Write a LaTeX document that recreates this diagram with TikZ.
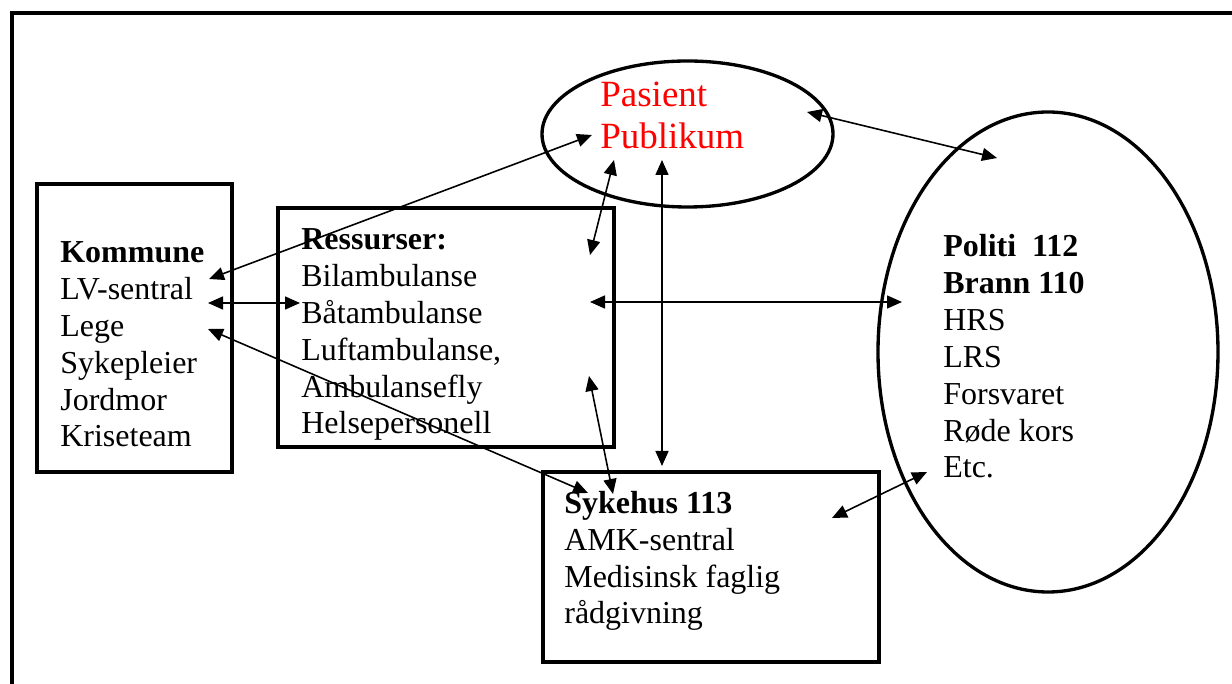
\documentclass[tikz,border=0pt]{standalone}
\usepackage{fontspec}
\setmainfont{Liberation Serif}
\usetikzlibrary{arrows.meta}
\begin{document}
\begin{tikzpicture}[font=\fontsize{18.2}{21.05}\selectfont]
    \tikzset{boks/.style={draw, line width=1.9pt},
      txt/.style={anchor=base west, align=left, inner sep=0pt},
      pil/.style={{Triangle[length=3mm,width=2.6mm]}-{Triangle[length=3mm,width=2.6mm]}, line width=0.9pt}}
    \useasboundingbox (0,0) rectangle (24.64,13.68);
    % outer frame, open to the right and below
    \draw[line width=2.2pt] (0.24,-0.2) -- (0.24,13.42) -- (24.9,13.42);
    % Kommune (text placed by its last baseline)
    \draw[boks] (0.74,4.24) rectangle (4.64,10.00);
    \node[txt] (kommune) at (1.20,4.74) {\textbf{Kommune}\\LV-sentral\\Lege\\Sykepleier\\Jordmor\\Kriseteam};
    % Ressurser
    \draw[boks] (5.56,4.74) rectangle (12.28,9.52);
    \node[txt] (ressurser) at (6.02,5.00) {\textbf{Ressurser:}\\Bilambulanse\\Båtambulanse\\Luftambulanse,\\Ambulansefly\\Helsepersonell};
    % Sykehus
    \draw[boks] (10.86,0.44) rectangle (17.58,4.24);
    \node[txt] (sykehus) at (11.28,1.20) {\textbf{Sykehus 113}\\AMK-sentral\\Medisinsk faglig\\rådgivning};
    % Pasient / Publikum
    \draw[line width=1.9pt] (13.75,11.0) ellipse [x radius=2.91, y radius=1.46];
    \node[txt, text=red, font=\fontsize{21.05}{23.9}\selectfont] (pasient) at (12.00,10.70) {Pasient\\Publikum};
    % nødetater
    \draw[line width=1.9pt] (20.96,6.64) ellipse [x radius=3.40, y radius=4.80];
    \node[txt] (politi) at (18.86,4.12) {\textbf{Politi\ \ 112}\\\textbf{Brann 110}\\HRS\\LRS\\Forsvaret\\Røde kors\\Etc.};
    % arrow ends
    \coordinate (k1) at (4.18,8.10);
    \coordinate (k2) at (4.16,7.62);
    \coordinate (k3) at (4.16,7.10);
    \coordinate (p1) at (11.84,10.98);
    \coordinate (p2) at (12.28,10.48);
    \coordinate (p3) at (13.24,10.48);
    \coordinate (p4) at (16.14,11.44);
    \coordinate (r1) at (6.00,7.62);
    \coordinate (r2) at (11.80,8.58);
    \coordinate (r3) at (11.78,6.16);
    \coordinate (r4) at (11.80,7.64);
    \coordinate (s1) at (11.76,3.82);
    \coordinate (s2) at (12.26,3.80);
    \coordinate (s3) at (13.24,4.36);
    \coordinate (s4) at (16.64,3.32);
    \coordinate (n1) at (19.94,10.52);
    \coordinate (n2) at (18.04,7.64);
    \coordinate (n3) at (18.54,4.24);
    % arrows
    \draw[pil] (k1) -- (p1);
    \draw[pil] (k2) -- (r1);
    \draw[pil] (k3) -- (s1);
    \draw[pil] (p2) -- (r2);
    \draw[pil] (p3) -- (s3);
    \draw[pil] (r3) -- (s2);
    \draw[pil] (r4) -- (n2);
    \draw[pil] (p4) -- (n1);
    \draw[pil] (s4) -- (n3);
\end{tikzpicture}
\end{document}
